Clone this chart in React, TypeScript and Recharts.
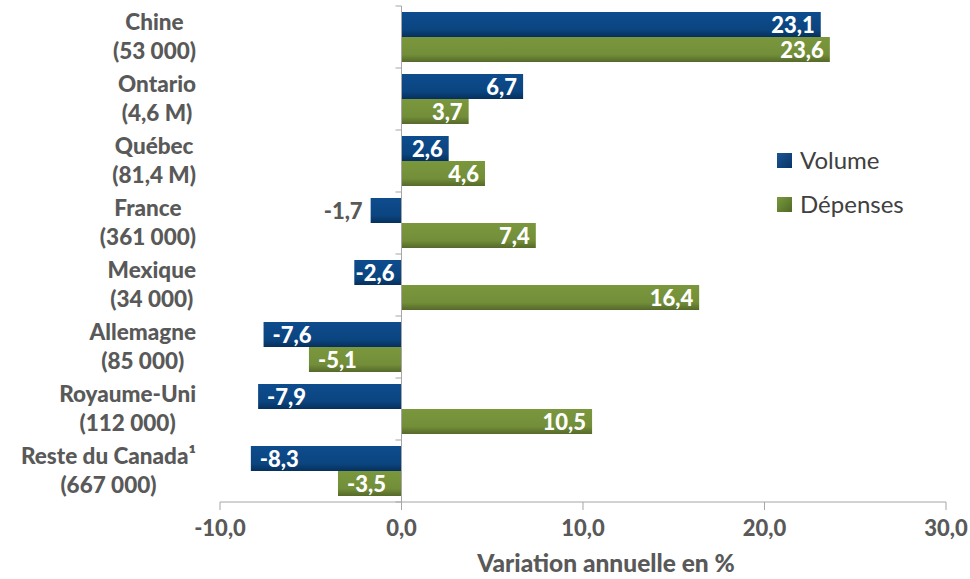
import { Bar, BarChart, LabelList, Legend, ReferenceLine, XAxis, YAxis } from 'recharts';

const regions = ['Chine', 'Ontario', 'Québec', 'France', 'Mexique', 'Allemagne', 'Royaume-Uni', 'Reste du Canada¹'];
const counts = ['(53 000)', '(4,6 M)', '(81,4 M)', '(361 000)', '(34 000)', '(85 000)', '(112 000)', '(667 000)'];
const volume = [23.1, 6.7, 2.6, -1.7, -2.6, -7.6, -7.9, -8.3];
const depenses = [23.6, 3.7, 4.6, 7.4, 16.4, -5.1, 10.5, -3.5];
const xTicks = [-10, 0, 10, 20, 30];
const seriesNames = ['Volume', 'Dépenses'];

const data = regions.map((region, i) => ({
    region,
    count: counts[i],
    volume: volume[i],
    depenses: depenses[i],
}));

const WIDTH = 970;
const HEIGHT = 579;
const TOP = 6;
const LEFT = 220;
const RIGHT = 24;
const AXIS_H = 77;
const BAND = (HEIGHT - TOP - AXIS_H) / regions.length;
const X_ZERO = LEFT + ((0 - xTicks[0]) / (xTicks[xTicks.length - 1] - xTicks[0])) * (WIDTH - LEFT - RIGHT);

const TEXT = '#595959';
const GRID = '#A6A6A6';
const FONT = 'Lato, sans-serif';

function formatValue(v: number): string {
    return v.toFixed(1).replace('.', ',');
}

let ctx: CanvasRenderingContext2D | null = null;
function measure(text: string, font: string): number {
    if (!ctx) {
        ctx = document.createElement('canvas').getContext('2d');
    }
    if (!ctx) return text.length * 11;
    ctx.font = font;
    return ctx.measureText(text).width;
}

function CategoryTick({ y, payload, index }: any) {
    const row = data[index] ?? data.find((d) => d.region === payload.value);
    const font = `900 22.5px Lato`;
    const w = Math.max(measure(row.region, font), measure(row.count, font));
    const cx = 196 - w / 2;
    const top = y - BAND / 2;
    return (
        <g>
            <text x={cx} y={y - 7} textAnchor="middle" fill={TEXT} fontFamily={FONT} fontWeight={900} fontSize={22.5}>
                {row.region}
            </text>
            <text x={cx} y={y + 22} textAnchor="middle" fill={TEXT} fontFamily={FONT} fontWeight={900} fontSize={22.5}>
                {row.count}
            </text>
            <line x1={X_ZERO - 6} x2={X_ZERO} y1={top} y2={top} stroke={GRID} />
            {index === regions.length - 1 && (
                <line x1={X_ZERO - 6} x2={X_ZERO} y1={top + BAND} y2={top + BAND} stroke={GRID} />
            )}
        </g>
    );
}

function ValueTick({ x, y, payload }: any) {
    return (
        <text x={x} y={y + 24} textAnchor="middle" fill={TEXT} fontFamily={FONT} fontWeight={900} fontSize={22}>
            {formatValue(payload.value)}
        </text>
    );
}

function BarLabel({ x, y, width, height, value }: any) {
    const left = Math.min(x, x + width);
    const right = Math.max(x, x + width);
    const w = right - left;
    const cy = y + height / 2 + 8;
    const common = { fontFamily: FONT, fontWeight: 900, fontSize: 22, y: cy };
    if (value >= 0) {
        return (
            <text {...common} x={right - 6} textAnchor="end" fill="#FFFFFF">
                {formatValue(value)}
            </text>
        );
    }
    if (w < 40) {
        return (
            <text {...common} x={left - 8} textAnchor="end" fill={TEXT}>
                {formatValue(value)}
            </text>
        );
    }
    const inset = Math.max(1, Math.min(9, w - 46));
    return (
        <text {...common} x={left + inset} textAnchor="start" fill="#FFFFFF">
            {formatValue(value)}
        </text>
    );
}

function AxisTitle({ viewBox }: any) {
    const cx = viewBox.x + viewBox.width / 2 + 23;
    return (
        <text x={cx} y={572} textAnchor="middle" fill={TEXT} fontFamily={FONT} fontWeight={900} fontSize={24.5}>
            Variation annuelle en %
        </text>
    );
}

function LegendBox() {
    return (
        <svg width={180} height={70} style={{ overflow: 'visible' }}>
            <defs>
                <linearGradient id="lgBlue" x1="0" y1="0" x2="1" y2="1">
                    <stop offset="0%" stopColor="#1A5596" />
                    <stop offset="100%" stopColor="#0A3565" />
                </linearGradient>
                <linearGradient id="lgGreen" x1="0" y1="0" x2="1" y2="1">
                    <stop offset="0%" stopColor="#7A9A3E" />
                    <stop offset="100%" stopColor="#4F6A25" />
                </linearGradient>
            </defs>
            {seriesNames.map((name, i) => (
                <g key={name}>
                    <rect x={0} y={5 + i * 44} width={15} height={15} fill={i === 0 ? 'url(#lgBlue)' : 'url(#lgGreen)'} />
                    <text x={23} y={21 + i * 44} fill="#404040" fontFamily={FONT} fontSize={24}>
                        {name}
                    </text>
                </g>
            ))}
        </svg>
    );
}

export default function App() {
    return (
        <div style={{ position: 'absolute', left: 0, top: 0, width: WIDTH, height: HEIGHT, background: '#fff' }}>
            <BarChart
                width={WIDTH}
                height={HEIGHT}
                data={data}
                layout="vertical"
                margin={{ top: TOP, right: RIGHT, bottom: 0, left: 0 }}
                barCategoryGap={6}
                barGap={0}
            >
                <defs>
                    <linearGradient id="gBlue" x1="0" y1="0" x2="0" y2="1">
                        <stop offset="0%" stopColor="#0E4C8E" />
                        <stop offset="70%" stopColor="#0B4580" />
                        <stop offset="100%" stopColor="#06305C" />
                    </linearGradient>
                    <linearGradient id="gGreen" x1="0" y1="0" x2="0" y2="1">
                        <stop offset="0%" stopColor="#7A973D" />
                        <stop offset="70%" stopColor="#738E39" />
                        <stop offset="100%" stopColor="#55692A" />
                    </linearGradient>
                </defs>
                <XAxis
                    type="number"
                    domain={[xTicks[0], xTicks[xTicks.length - 1]]}
                    ticks={xTicks}
                    height={AXIS_H}
                    stroke={GRID}
                    tickSize={8}
                    tick={<ValueTick />}
                    label={{ content: <AxisTitle /> }}
                    interval={0}
                />
                <YAxis
                    type="category"
                    dataKey="region"
                    width={LEFT}
                    axisLine={false}
                    tickLine={false}
                    tick={<CategoryTick />}
                    interval={0}
                />
                <ReferenceLine x={0} stroke={GRID} />
                <Legend
                    layout="horizontal"
                    align="center"
                    verticalAlign="middle"
                    content={<LegendBox />}
                    wrapperStyle={{ position: 'absolute', left: 777, top: 148, width: 180, height: 70 }}
                />
                <Bar dataKey="volume" name={seriesNames[0]} fill="url(#gBlue)" isAnimationActive={false}>
                    <LabelList dataKey="volume" content={<BarLabel />} />
                </Bar>
                <Bar dataKey="depenses" name={seriesNames[1]} fill="url(#gGreen)" isAnimationActive={false}>
                    <LabelList dataKey="depenses" content={<BarLabel />} />
                </Bar>
            </BarChart>
        </div>
    );
}
